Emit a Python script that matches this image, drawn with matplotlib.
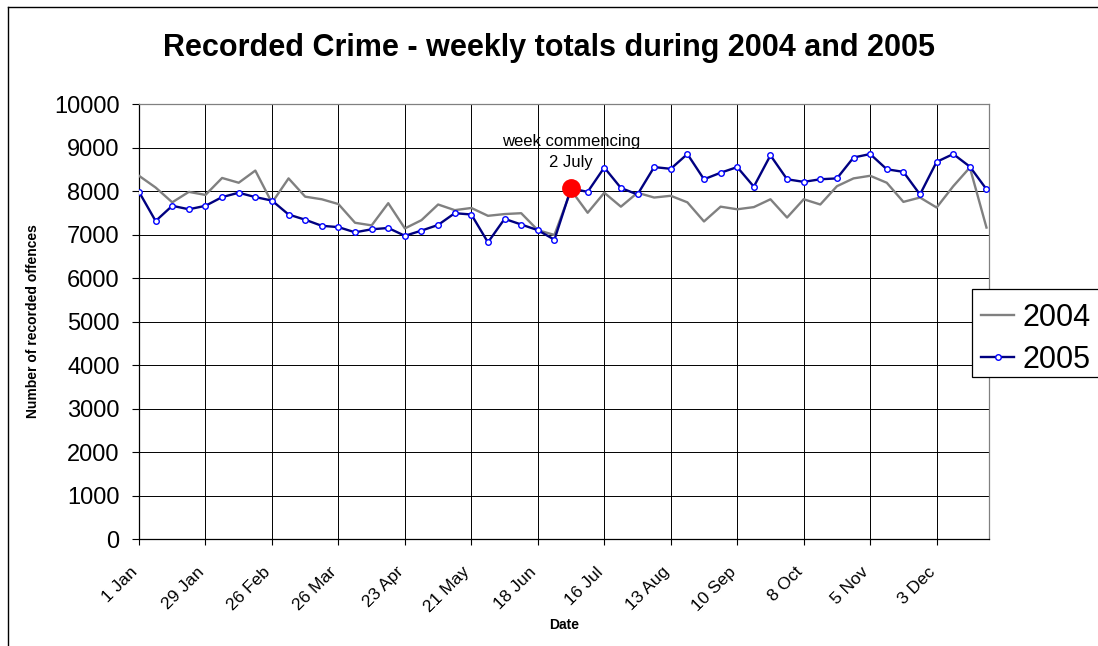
import matplotlib.pyplot as plt
import numpy as np
from matplotlib.lines import Line2D
from matplotlib.patches import Rectangle
from matplotlib.transforms import ScaledTranslation

plt.rcParams['font.family'] = ['Liberation Sans', 'DejaVu Sans']

# weekly totals, week 0 = week commencing 1 Jan
crime_2004 = [8350, 8080, 7740, 7980, 7910, 8300, 8190, 8470, 7730, 8290,
              7870, 7810, 7700, 7270, 7210, 7720, 7140, 7330, 7690, 7560,
              7610, 7430, 7470, 7490, 7100, 6990, 8020, 7500, 7960, 7640,
              7960, 7850, 7890, 7740, 7300, 7640, 7580, 7630, 7810, 7390,
              7810, 7690, 8110, 8290, 8350, 8190, 7750, 7850, 7620, 8110,
              8540, 7160]
crime_2005 = [7980, 7310, 7660, 7580, 7660, 7860, 7960, 7860, 7780, 7460,
              7340, 7200, 7170, 7050, 7120, 7150, 6970, 7090, 7220, 7490,
              7460, 6820, 7360, 7230, 7100, 6880, 8060, 7980, 8540, 8070,
              7920, 8550, 8510, 8850, 8270, 8420, 8550, 8100, 8820, 8270,
              8210, 8270, 8290, 8770, 8850, 8500, 8440, 7920, 8670, 8850,
              8560, 8040]
tick_labels = ['1 Jan', '29 Jan', '26 Feb', '26 Mar', '23 Apr', '21 May',
               '18 Jun', '16 Jul', '13 Aug', '10 Sep', '8 Oct', '5 Nov',
               '3 Dec']
highlight_week = 26  # week commencing 2 July

weeks = np.arange(len(crime_2005))
W, H = 1098, 646

fig = plt.figure(figsize=(W / 100, H / 100), dpi=100)
ax = fig.add_axes([0.1266, 0.1656, 0.9007 - 0.1266, 0.839 - 0.1656])

ax.plot(weeks, crime_2004, color='#808080', lw=1.7, zorder=3, label='2004')
ax.plot(weeks, crime_2005, color='#000080', lw=1.7, marker='o', ms=4,
        mfc='white', mec='#0000ff', mew=1.0, zorder=4, label='2005')
ax.plot(weeks[highlight_week], crime_2005[highlight_week], 'o',
        color='#ff0000', ms=12.5, zorder=5)
ax.text(weeks[highlight_week], 8900, 'week commencing\n2 July',
        ha='center', va='center', fontsize=12, linespacing=1.45, zorder=6)

ax.set_xlim(0, 51.15)
ax.set_ylim(0, 10000)
ax.set_yticks(np.arange(0, 10001, 1000))
ax.set_xticks(np.arange(0, 52, 4))
ax.set_xticklabels(tick_labels, rotation=45, ha='right', va='center',
                   rotation_mode='anchor', fontsize=12.5)
ax.tick_params(axis='y', labelsize=17, length=5, width=0.8, pad=9)
ax.tick_params(axis='x', length=4, width=0.8, pad=18)
# nudge the slanted date labels slightly left of their ticks
shift = ScaledTranslation(-4 / 100, 0, fig.dpi_scale_trans)
for lbl in ax.get_xticklabels():
    lbl.set_transform(lbl.get_transform() + shift)
ax.grid(True, color='#000000', lw=0.7, zorder=1)
ax.set_axisbelow(True)

for side in ['top', 'right']:
    ax.spines[side].set_color('#808080')
for side in ['left', 'bottom']:
    ax.spines[side].set_color('#000000')
for sp in ax.spines.values():
    sp.set_linewidth(0.9)

ax.set_xlabel('Date', fontsize=10, fontweight='bold', labelpad=2)
ax.set_ylabel('Number of recorded offences', fontsize=10, fontweight='bold',
              labelpad=10)
fig.text(0.5, 1 - 48 / H, 'Recorded Crime - weekly totals during 2004 and 2005',
         ha='center', va='center', fontsize=22, fontweight='bold')

# legend box runs off the right edge of the figure
fig.add_artist(Rectangle((971.7 / W, 1 - 377 / H), (W + 20 - 971.7) / W, 88 / H,
                         transform=fig.transFigure, facecolor='white',
                         edgecolor='black', lw=0.9, zorder=5))
leg = fig.legend(loc='center left', bbox_to_anchor=(971.7 / W, 1 - 339 / H),
                 fontsize=22, frameon=False, borderpad=0.3,
                 handlelength=1.1, handletextpad=0.25, labelspacing=0.4,
                 numpoints=1, borderaxespad=0)
leg.set_zorder(6)

# outer chart border, left and top edges
fig.add_artist(Line2D([8 / W, 8 / W], [0, 1 - 7 / H],
                      color='black', lw=1.0, transform=fig.transFigure))
fig.add_artist(Line2D([8 / W, 1], [1 - 7 / H, 1 - 7 / H],
                      color='black', lw=1.0, transform=fig.transFigure))

fig.savefig('out.png', dpi=100)
